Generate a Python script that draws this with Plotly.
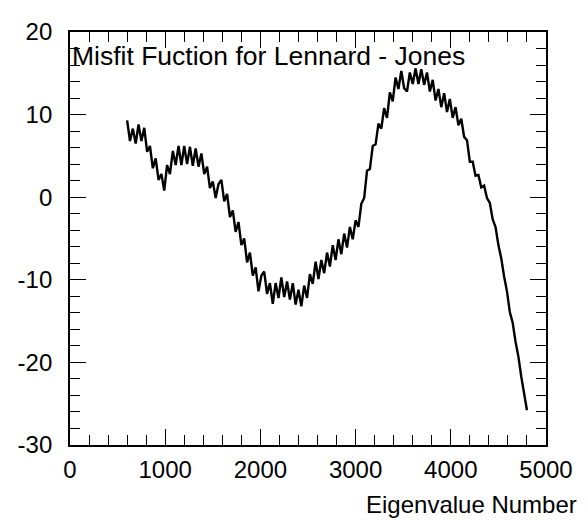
import plotly.graph_objects as go

# Eigenvalue numbers (sampled every 30)
eig_start = 600
eig_step = 30
eigenvalue_number = list(range(eig_start, 4801, eig_step))

# Misfit values
misfit = [
    9.3, 6.8, 8.3, 6.5, 8.8, 6.8, 8.4, 5.5, 6.2, 3.5,
    4.7, 2.1, 2.8, 0.8, 3.9, 2.8, 5.6, 3.9, 6.2, 3.9,
    6.2, 4.0, 6.1, 3.8, 5.9, 3.7, 5.3, 2.8, 3.7, 1.1,
    1.9, -0.1, 1.6, 2.1, -0.5, 0.4, -2.4, -1.6, -4.2, -3.0,
    -5.8, -5.0, -7.9, -6.7, -9.5, -8.5, -11.4, -9.5, -9.0, -11.7,
    -10.4, -12.9, -10.4, -12.2, -9.7, -12.1, -10.2, -12.4, -10.4, -13.0,
    -11.2, -13.2, -10.7, -12.2, -9.3, -10.5, -7.8, -9.9, -7.6, -9.2,
    -6.7, -8.4, -5.8, -7.6, -5.1, -6.9, -4.4, -6.1, -3.6, -5.1,
    -2.8, -3.6, -0.8, -0.1, 3.2, 3.4, 6.2, 6.4, 8.9, 8.3,
    10.8, 9.6, 12.7, 11.6, 14.5, 13.1, 15.3, 13.2, 12.8, 15.1,
    13.7, 15.6, 13.7, 15.5, 13.6, 15.1, 12.8, 14.2, 11.7, 13.1,
    10.9, 12.6, 10.3, 11.9, 9.6, 10.9, 8.7, 9.5, 7.3, 6.9,
    4.3, 4.3, 2.6, 2.7, 1.2, 1.4, -0.1, -0.7, -2.7, -3.6,
    -5.8, -7.4, -9.6, -11.4, -13.9, -15.2, -17.5, -19.3, -21.7, -24.0,
    -25.8,
]

title_text = "Misfit Fuction for Lennard - Jones"
x_title = "Eigenvalue Number"
x_ticks = [0, 1000, 2000, 3000, 4000, 5000]
y_ticks = [-30, -20, -10, 0, 10, 20]

FONT = "Liberation Sans, Arial, Helvetica, sans-serif"

fig = go.Figure()
fig.add_trace(go.Scatter(
    x=eigenvalue_number, y=misfit, mode="lines",
    line=dict(color="black", width=2.4),
    showlegend=False, hoverinfo="skip",
))

axis_common = dict(
    showgrid=False, zeroline=False,
    showline=True, linecolor="black", linewidth=1.8,
    mirror="ticks", ticks="inside", ticklen=16, tickwidth=1.4,
    tickcolor="black", ticklabeloverflow="allow",
    tickfont=dict(family=FONT, size=24, color="black"),
)

fig.update_xaxes(
    range=[0, 5000], tickvals=x_ticks, ticktext=[str(v) for v in x_ticks],
    minor=dict(dtick=200, ticks="inside", ticklen=10, tickwidth=1.3, tickcolor="black", showgrid=False),
    ticklabelstandoff=2,
    **axis_common,
)
fig.update_yaxes(
    range=[-30, 20], tickvals=y_ticks, ticktext=[str(v) for v in y_ticks],
    minor=dict(dtick=2, ticks="inside", ticklen=10, tickwidth=1.3, tickcolor="black", showgrid=False),
    ticklabelstandoff=11,
    **axis_common,
)

fig.add_annotation(
    text=title_text, xref="paper", yref="paper", x=0.0, y=0.941,
    xanchor="left", yanchor="middle", showarrow=False,
    font=dict(family=FONT, size=26.5, color="black"),
)
fig.add_annotation(
    text=x_title, xref="paper", yref="paper", x=1.07, y=-0.145,
    xanchor="right", yanchor="middle", showarrow=False,
    font=dict(family=FONT, size=24, color="black"),
)

# page body adds an 8px margin; size the figure so the plot lands where the reference has it
fig.update_layout(
    width=580, height=517,
    margin=dict(l=54, r=42, t=10, b=80),
    paper_bgcolor="white", plot_bgcolor="white",
    font=dict(family=FONT, color="black"),
)

fig.write_html("out.html")
